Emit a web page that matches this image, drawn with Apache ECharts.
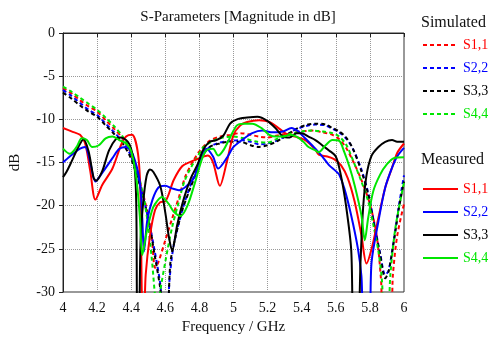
<!DOCTYPE html>
<html>
<head>
<meta charset="utf-8">
<script src="https://cdn.jsdelivr.net/npm/echarts@6/dist/echarts.min.js"></script>
<style>
  html, body { margin: 0; padding: 0; background: #fff; }
  #chart { width: 492px; height: 345px; }
</style>
</head>
<body>
<div id="chart"></div>
<script>
// [frequency GHz, magnitude dB]; values below -30 run off the bottom of the plot
const simS11 = [[4.00,-6.4],[4.05,-7.0],[4.10,-7.8],[4.15,-8.5],[4.20,-9.1],[4.25,-10.1],[4.30,-11.1],[4.35,-12.2],[4.40,-14.0],[4.45,-17.2],[4.49,-20.3],[4.52,-23.5],[4.54,-27.2],[4.56,-26.5],[4.60,-24.0],[4.64,-21.5],[4.68,-19.0],[4.72,-16.5],[4.77,-14.6],[4.80,-13.7],[4.86,-12.5],[4.92,-12.0],[4.98,-11.8],[5.04,-11.6],[5.10,-11.8],[5.15,-12.0],[5.20,-12.1],[5.25,-11.9],[5.30,-11.7],[5.35,-11.5],[5.40,-11.4],[5.46,-11.3],[5.52,-11.5],[5.58,-11.8],[5.62,-12.3],[5.66,-13.3],[5.70,-14.8],[5.75,-17.0],[5.80,-19.8],[5.84,-23.5],[5.865,-28.5],[5.88,-33],[5.92,-33],[5.935,-28],[5.96,-23.5],[6.00,-19.8]]
const simS22 = [[4.00,-6.6],[4.05,-7.3],[4.10,-8.1],[4.15,-8.9],[4.20,-9.5],[4.25,-10.5],[4.30,-11.5],[4.35,-12.6],[4.40,-14.3],[4.45,-17.5],[4.50,-21.5],[4.54,-25.5],[4.57,-29.0],[4.59,-33],[4.61,-33],[4.625,-28.5],[4.65,-24.5],[4.70,-20.5],[4.75,-17.5],[4.79,-15.6],[4.82,-14.2],[4.86,-13.2],[4.92,-12.7],[4.98,-12.5],[5.04,-12.4],[5.10,-12.6],[5.15,-12.9],[5.20,-12.8],[5.25,-12.5],[5.30,-12.0],[5.35,-11.3],[5.42,-10.8],[5.48,-10.6],[5.54,-10.7],[5.58,-11.1],[5.62,-11.5],[5.66,-12.2],[5.70,-13.4],[5.75,-15.8],[5.79,-18.5],[5.82,-21.5],[5.86,-25.5],[5.89,-28.0],[5.91,-27.5],[5.94,-24.0],[5.97,-20.0],[6.00,-16.5]]
const simS33 = [[4.00,-6.9],[4.05,-7.6],[4.10,-8.4],[4.15,-9.1],[4.20,-9.7],[4.25,-10.7],[4.30,-11.7],[4.35,-12.8],[4.40,-14.6],[4.45,-17.6],[4.50,-21.5],[4.54,-26.0],[4.57,-29.5],[4.59,-33],[4.61,-33],[4.63,-26.6],[4.66,-23.6],[4.70,-20.5],[4.74,-18.3],[4.79,-15.8],[4.82,-14.2],[4.86,-13.2],[4.92,-12.8],[4.98,-12.6],[5.04,-12.6],[5.10,-13.0],[5.15,-13.2],[5.20,-13.0],[5.25,-12.6],[5.30,-12.0],[5.36,-11.2],[5.42,-10.7],[5.48,-10.5],[5.54,-10.6],[5.58,-11.0],[5.62,-11.4],[5.66,-12.1],[5.70,-13.4],[5.75,-16.0],[5.79,-18.7],[5.82,-21.8],[5.86,-25.7],[5.89,-28.4],[5.91,-27.6],[5.94,-24.2],[5.97,-20.3],[6.00,-17.2]]
const simS44 = [[4.00,-6.2],[4.05,-6.8],[4.10,-7.5],[4.15,-8.2],[4.20,-8.9],[4.25,-9.8],[4.30,-10.8],[4.35,-12.0],[4.40,-13.8],[4.45,-17.0],[4.49,-21.0],[4.52,-26.0],[4.54,-30.5],[4.555,-33],[4.57,-30],[4.60,-26.5],[4.64,-22.5],[4.68,-19.5],[4.71,-17.3],[4.75,-15.6],[4.79,-14.3],[4.82,-13.3],[4.88,-12.5],[4.94,-12.1],[5.00,-12.0],[5.06,-12.2],[5.14,-12.6],[5.20,-12.7],[5.25,-12.3],[5.30,-11.9],[5.35,-11.6],[5.40,-11.4],[5.46,-11.3],[5.52,-11.4],[5.58,-11.6],[5.62,-12.0],[5.66,-12.9],[5.70,-14.7],[5.75,-17.2],[5.79,-19.5],[5.82,-22.2],[5.85,-25.3],[5.87,-28.5],[5.885,-33],[5.905,-33],[5.92,-28],[5.95,-22.5],[6.00,-17.3]]

const measS11 = [[4.00,-11.0],[4.05,-11.4],[4.10,-11.8],[4.13,-12.8],[4.16,-16.0],[4.19,-19.3],[4.23,-17.6],[4.29,-15.7],[4.34,-13.0],[4.37,-12.0],[4.405,-11.8],[4.44,-14.0],[4.455,-19],[4.462,-30],[4.47,-33],[4.475,-33],[4.485,-28],[4.51,-23.5],[4.54,-20.5],[4.57,-19.6],[4.60,-19.5],[4.65,-17.0],[4.70,-15.4],[4.75,-14.9],[4.80,-14.5],[4.85,-14.2],[4.88,-15.0],[4.92,-17.7],[4.96,-15.0],[5.00,-11.8],[5.04,-10.7],[5.08,-10.3],[5.15,-10.1],[5.21,-10.3],[5.27,-11.1],[5.31,-11.7],[5.36,-12.0],[5.42,-12.4],[5.48,-13.5],[5.50,-14.1],[5.55,-14.3],[5.59,-14.6],[5.63,-15.3],[5.67,-16.8],[5.71,-19.5],[5.75,-23.4],[5.78,-26.7],[5.81,-25.0],[5.85,-21.4],[5.89,-17.9],[5.93,-15.6],[5.96,-13.9],[6.00,-12.8]]
const measS22 = [[4.00,-15.0],[4.04,-14.3],[4.10,-13.4],[4.13,-13.2],[4.16,-15.0],[4.19,-17.2],[4.23,-16.2],[4.29,-14.5],[4.33,-13.4],[4.37,-13.2],[4.41,-14.1],[4.45,-17.2],[4.465,-21.5],[4.475,-25.3],[4.495,-21.6],[4.525,-19.3],[4.56,-17.9],[4.60,-17.7],[4.64,-18.0],[4.68,-18.2],[4.72,-17.8],[4.77,-16.7],[4.80,-14.8],[4.84,-13.4],[4.88,-14.3],[4.91,-15.7],[4.96,-14.5],[5.00,-13.2],[5.05,-12.4],[5.11,-11.6],[5.17,-11.3],[5.23,-11.5],[5.29,-11.4],[5.34,-11.0],[5.38,-11.4],[5.42,-12.2],[5.48,-13.4],[5.52,-14.3],[5.56,-15.3],[5.60,-16.0],[5.62,-16.4],[5.65,-18.0],[5.69,-21.1],[5.73,-25.0],[5.75,-28.1],[5.765,-33],[5.795,-33],[5.81,-26.5],[5.85,-21.8],[5.89,-17.9],[5.93,-15.6],[5.96,-14.3],[6.00,-13.3]]
const measS33 = [[4.00,-16.7],[4.02,-16.1],[4.05,-14.9],[4.09,-13.2],[4.12,-12.3],[4.15,-13.7],[4.18,-16.8],[4.195,-17.1],[4.23,-16.0],[4.27,-13.6],[4.31,-12.3],[4.34,-12.1],[4.39,-12.9],[4.42,-15.6],[4.43,-20.3],[4.436,-33],[4.445,-33],[4.455,-24],[4.47,-19.7],[4.49,-16.6],[4.51,-15.8],[4.53,-16.1],[4.57,-17.7],[4.60,-20.8],[4.62,-23.5],[4.64,-25.2],[4.67,-22.2],[4.71,-19.1],[4.75,-16.8],[4.79,-15.2],[4.82,-13.6],[4.86,-12.6],[4.90,-12.4],[4.94,-11.9],[4.98,-10.5],[5.02,-10.0],[5.08,-9.8],[5.14,-9.7],[5.20,-10.2],[5.25,-11.1],[5.29,-12.0],[5.33,-12.1],[5.37,-11.6],[5.40,-11.6],[5.44,-12.0],[5.48,-12.4],[5.52,-13.0],[5.56,-13.6],[5.60,-14.3],[5.63,-16.5],[5.66,-20.0],[5.69,-25.0],[5.705,-33],[5.73,-33],[5.745,-26.5],[5.76,-20.3],[5.78,-16.5],[5.81,-14.2],[5.85,-13.2],[5.89,-12.6],[5.93,-12.4],[5.96,-12.6],[6.00,-12.6]]
const measS44 = [[4.00,-13.4],[4.04,-14.0],[4.08,-13.2],[4.11,-12.2],[4.14,-12.4],[4.17,-13.2],[4.21,-13.0],[4.25,-12.2],[4.29,-12.0],[4.33,-12.4],[4.37,-12.8],[4.40,-13.7],[4.43,-16.8],[4.45,-21.1],[4.465,-25.7],[4.49,-23.1],[4.52,-20.7],[4.54,-19.8],[4.58,-19.0],[4.62,-19.8],[4.65,-20.7],[4.69,-21.2],[4.73,-20.0],[4.77,-17.6],[4.81,-14.9],[4.84,-13.6],[4.88,-13.4],[4.91,-14.2],[4.94,-13.6],[4.98,-12.1],[5.02,-10.7],[5.06,-10.5],[5.11,-10.5],[5.17,-11.1],[5.21,-11.8],[5.25,-12.0],[5.29,-12.0],[5.33,-11.8],[5.37,-12.0],[5.41,-12.6],[5.44,-13.2],[5.48,-13.6],[5.50,-13.8],[5.54,-13.0],[5.58,-12.4],[5.62,-12.5],[5.65,-13.8],[5.68,-15.5],[5.71,-17.6],[5.75,-21.1],[5.77,-24.0],[5.79,-21.4],[5.82,-18.3],[5.86,-16.4],[5.90,-15.2],[5.94,-14.5],[6.00,-14.4]]

const portNames = ['S1,1', 'S2,2', 'S3,3', 'S4,4']
const portColors = ['#ff0000', '#0000ff', '#000000', '#00e600']
const simulated = [simS11, simS22, simS33, simS44]
const measured = [measS11, measS22, measS33, measS44]

const FONT = '"Liberation Serif", "Times New Roman", serif'

function lineSeries(group, data, index, dashed) {
  return {
    type: 'line',
    name: group + ' ' + portNames[index],
    data: data,
    symbol: 'none',
    smooth: 0.3,
    clip: true,
    lineStyle: {
      color: portColors[index],
      width: 2,
      type: dashed ? [4, 3] : 'solid',
    },
    itemStyle: { color: portColors[index] },
  }
}

// legend icon keeps the series line style; the symbol dot is hidden
function legendFor(group, top) {
  return {
    orient: 'vertical',
    left: 417,
    top: top,
    itemWidth: 35,
    itemHeight: 14,
    itemGap: 9,
    selectedMode: false,
    itemStyle: { opacity: 0 },
    textStyle: { fontFamily: FONT, fontSize: 14 },
    formatter: (name) => name.split(' ')[1],
    data: portNames.map((port, index) => ({
      name: group + ' ' + port,
      textStyle: { color: portColors[index] },
    })),
  }
}

const chart = echarts.init(document.getElementById('chart'), null, { renderer: 'canvas' })

chart.setOption({
  animation: false,
  title: {
    text: 'S-Parameters [Magnitude in dB]',
    left: 233,
    textAlign: 'center',
    top: 5,
    textStyle: { fontFamily: FONT, fontSize: 15, fontWeight: 'normal', color: '#111' },
  },
  legend: [legendFor('Simulated', 33), legendFor('Measured', 177)],
  graphic: [
    {
      type: 'text', left: 421, top: 15,
      style: { text: 'Simulated', fontFamily: FONT, fontSize: 16, fill: '#111' },
    },
    {
      type: 'text', left: 421, top: 152,
      style: { text: 'Measured', fontFamily: FONT, fontSize: 16, fill: '#111' },
    },
  ],
  grid: {
    left: 62, right: 88, top: 33, bottom: 53,
    show: true, borderColor: '#333', borderWidth: 1,
  },
  xAxis: {
    type: 'value',
    min: 4, max: 6, interval: 0.2,
    name: 'Frequency / GHz',
    nameLocation: 'middle',
    nameGap: 28,
    nameTextStyle: { fontFamily: FONT, fontSize: 15, color: '#111' },
    axisLine: { lineStyle: { color: '#222', width: 1 } },
    axisTick: { show: true, length: 4, lineStyle: { color: '#222' } },
    axisLabel: { fontFamily: FONT, fontSize: 14, color: '#111', margin: 9 },
    splitLine: { show: true, lineStyle: { color: '#999', type: 'dotted', width: 1 } },
  },
  yAxis: {
    type: 'value',
    min: -30, max: 0, interval: 5,
    name: 'dB',
    nameLocation: 'middle',
    nameGap: 40,
    nameTextStyle: { fontFamily: FONT, fontSize: 15, color: '#111' },
    axisLine: { show: true, lineStyle: { color: '#222', width: 1 } },
    axisTick: { show: true, length: 4, lineStyle: { color: '#222' } },
    axisLabel: { fontFamily: FONT, fontSize: 14, color: '#111', margin: 8 },
    splitLine: { show: true, lineStyle: { color: '#999', type: 'dotted', width: 1 } },
  },
  series: [
    ...simulated.map((data, index) => lineSeries('Simulated', data, index, true)),
    ...measured.map((data, index) => lineSeries('Measured', data, index, false)),
  ],
})
</script>
</body>
</html>
